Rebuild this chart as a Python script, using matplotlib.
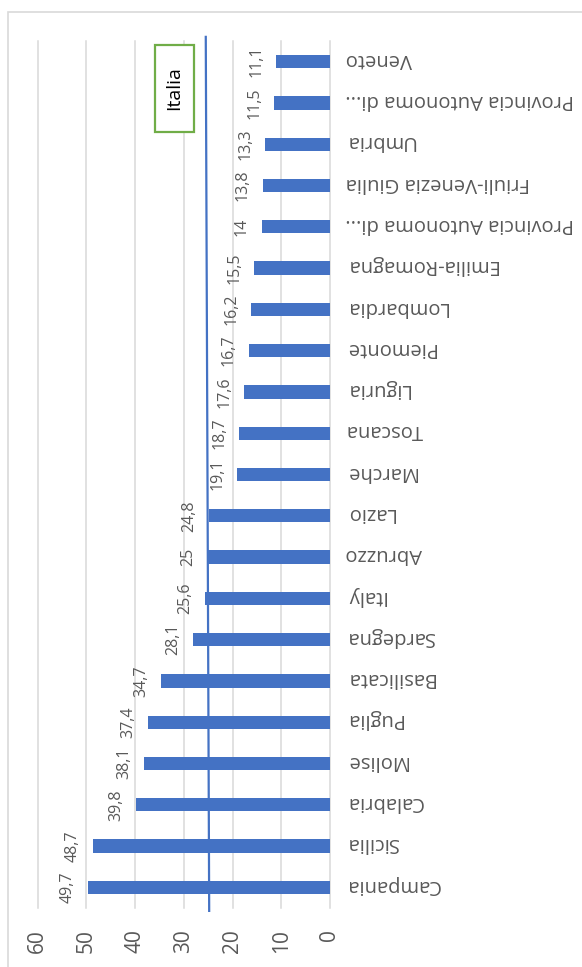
import matplotlib
matplotlib.use("Agg")
import matplotlib.pyplot as plt
from matplotlib.patches import Rectangle
from matplotlib.transforms import offset_copy

# regions listed bottom to top
regions = [
    "Campania", "Sicilia", "Calabria", "Molise", "Puglia", "Basilicata",
    "Sardegna", "Italy", "Abruzzo", "Lazio", "Marche", "Toscana", "Liguria",
    "Piemonte", "Lombardia", "Emilia-Romagna", "Provincia Autonoma di...",
    "Friuli-Venezia Giulia", "Umbria", "Provincia Autonoma di...", "Veneto",
]
values = [49.7, 48.7, 39.8, 38.1, 37.4, 34.7, 28.1, 25.6, 25, 24.8, 19.1,
          18.7, 17.6, 16.7, 16.2, 15.5, 14, 13.8, 13.3, 11.5, 11.1]
value_ticks = [0, 10, 20, 30, 40, 50, 60]

# reference line drawn by hand: value at the top end and at the bottom end
italia_line = [25.5, 24.8]
italia_label = "Italia"

BLUE = "#4472C4"
GREEN = "#70AD47"
GRID = "#D9D9D9"
TEXT = "#595959"

plt.rcParams["font.family"] = ["Open Sans", "DejaVu Sans"]

W, H = 582, 967
fig = plt.figure(figsize=(W / 100, H / 100), dpi=100)
ax = fig.add_axes([37.7 / W, 1 - 908 / H, (330 - 37.7) / W, (908 - 41) / H])

pos = list(range(len(regions)))
ax.barh(pos, values, height=0.32, color=BLUE, zorder=2)

ax.set_xlim(60, 0)
ax.set_ylim(-0.5, len(regions) - 0.5)
ax.set_xticks(value_ticks)
ax.set_xticklabels([str(t) for t in value_ticks], rotation=90, fontsize=15, color=TEXT)
ax.tick_params(axis="x", length=0, pad=15)

ax.yaxis.tick_right()
ax.set_yticks(pos)
ax.set_yticklabels(regions, rotation=180, fontsize=14.5, color=TEXT)
ax.tick_params(axis="y", length=0, pad=11)
for lab in ax.get_yticklabels():
    lab.set_ha("left")
    lab.set_va("center")
    # upside-down text: nudge up so the letters sit on the bar centre
    lab.set_transform(offset_copy(lab.get_transform(), fig=fig, x=0, y=2, units="points"))

for s in ax.spines.values():
    s.set_visible(False)
ax.grid(axis="x", color=GRID, lw=1.1, zorder=0)
ax.set_axisbelow(True)
for gl in ax.get_xgridlines():
    gl.set_clip_on(False)

# value labels at the end of each bar
for p, v in zip(pos, values):
    ax.annotate(f"{v:g}".replace(".", ","), (v, p), xytext=(-8.5, 0),
                textcoords="offset points", rotation=90, ha="right", va="center",
                fontsize=11.5, color=TEXT)

# national average line, slightly beyond the plot area
ax.plot(italia_line, [len(regions) - 0.4, -0.57], color=BLUE, lw=1.6,
        zorder=3, clip_on=False)

# label box for the line
ax.add_patch(Rectangle((28.0, 18.30), 8.0, 2.10, fc="white", ec=GREEN,
                       lw=1.6, zorder=4))
ax.text(32.0, 19.35, italia_label, rotation=90, ha="center", va="center",
        fontsize=14, color="black", zorder=5)

# chart frame
fig.patches.append(Rectangle((8 / W, -0.1), 1.2, 1 - 11.7 / H + 0.1,
                             transform=fig.transFigure, fill=False,
                             ec=GRID, lw=1.2))

fig.savefig("out.png", dpi=100)
